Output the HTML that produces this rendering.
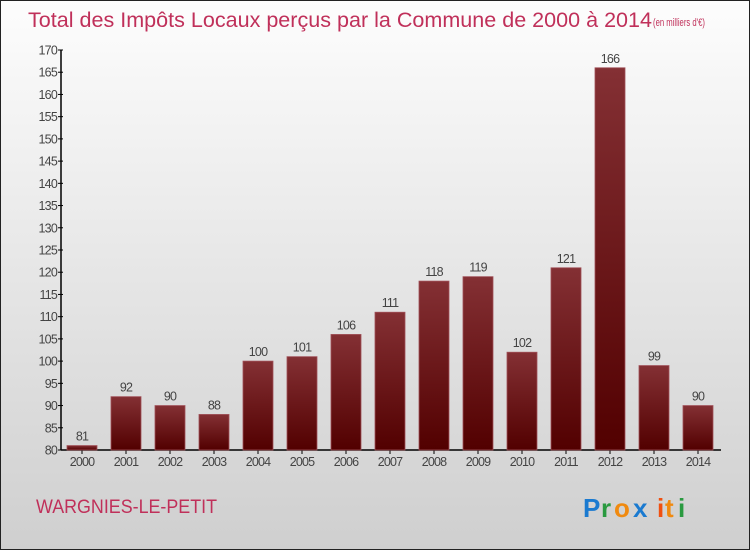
<!DOCTYPE html>
<html><head><meta charset="utf-8"><style>
body{margin:0;width:750px;height:550px;overflow:hidden;font-family:"Liberation Sans",sans-serif}
</style></head><body>
<svg width="750" height="550" xmlns="http://www.w3.org/2000/svg">
<defs>
<linearGradient id="bg" x1="0" y1="0" x2="0" y2="1"><stop offset="0" stop-color="#fdfdfd"/><stop offset="1" stop-color="#cfcfcf"/></linearGradient>
<linearGradient id="bar" x1="0" y1="0" x2="0" y2="1"><stop offset="0" stop-color="#843034"/><stop offset="1" stop-color="#520000"/></linearGradient>
</defs>
<rect x="0.5" y="0.5" width="749" height="549" fill="url(#bg)" stroke="#222"/>
<text x="28" y="27" font-size="21" fill="#c0305a" textLength="624" lengthAdjust="spacingAndGlyphs">Total des Impôts Locaux perçus par la Commune de 2000 à 2014</text>
<text x="653" y="26" font-size="11" fill="#c0305a" textLength="52" lengthAdjust="spacingAndGlyphs">(en milliers d'€)</text>
<g id="axes"></g>
<g id="bars"></g>
<text x="36" y="513" font-size="19" fill="#c0305a" textLength="181" lengthAdjust="spacingAndGlyphs">WARGNIES-LE-PETIT</text>
<g font-size="26" font-family="'Liberation Sans',sans-serif" font-weight="bold">
<text x="583" y="517" fill="#1a7ad0">P</text><text x="601" y="517" fill="#2a9a40">r</text><text x="614" y="517" fill="#f08a10">o</text><text x="633" y="517" fill="#1a7ad0">x</text><text x="657" y="517" fill="#f05010">i</text><text x="665" y="517" fill="#f08a10">t</text><text x="678" y="517" fill="#2a9a40">i</text>
</g>
</svg>
<script>
const years=["2000","2001","2002","2003","2004","2005","2006","2007","2008","2009","2010","2011","2012","2013","2014"];
const values=[81,92,90,88,100,101,106,111,118,119,102,121,166,99,90];
const yTicks=[80,85,90,95,100,105,110,115,120,125,130,135,140,145,150,155,160,165,170];
const NS="http://www.w3.org/2000/svg";
const y=v=>450-(v-80)*400/90;
const x=i=>82+i*44;
function mk(t,a,p){const e=document.createElementNS(NS,t);for(const k in a)e.setAttribute(k,a[k]);p.appendChild(e);return e;}
const ax=document.getElementById('axes'),bg=document.getElementById('bars');
let l=mk('line',{x1:61,y1:50,x2:61,y2:450,stroke:'#000','stroke-width':1.5},ax);


l=mk('line',{x1:61,y1:450,x2:721,y2:450,stroke:'#000','stroke-width':1.5},ax);


yTicks.forEach(v=>{
mk('line',{x1:58,y1:y(v),x2:63,y2:y(v),stroke:'#000'},ax);
const t=mk('text',{x:57,y:y(v)+4.5,'text-anchor':'end','font-size':12.5,fill:'#444','letter-spacing':'-0.8'},ax);t.textContent=v;


});
years.forEach((yr,i)=>{
const v=values[i];
const r=mk('rect',{x:x(i)-15,y:y(v),width:30,height:450-y(v),fill:'url(#bar)',stroke:'#a05058','stroke-width':0.8},bg);


const vl=mk('text',{x:x(i),y:y(v)-5,'text-anchor':'middle','font-size':12.5,fill:'#444','letter-spacing':'-0.8'},bg);vl.textContent=v;


mk('line',{x1:x(i),y1:450,x2:x(i),y2:454,stroke:'#000'},ax);
const xl=mk('text',{x:x(i),y:466,'text-anchor':'middle','font-size':12.5,fill:'#444','letter-spacing':'-0.8'},ax);xl.textContent=yr;


});
</script>
</body></html>
